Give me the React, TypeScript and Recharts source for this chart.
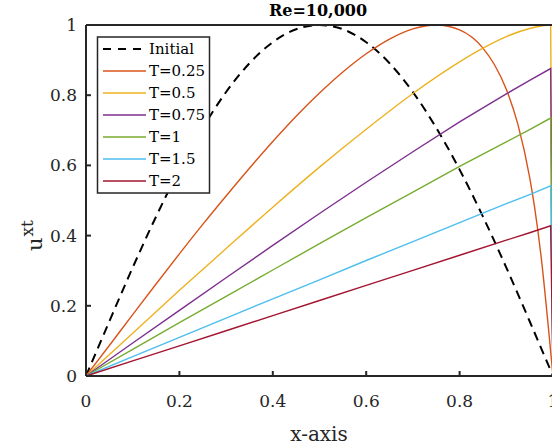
import { LineChart, Line, XAxis, YAxis } from "recharts";

const xTicks = [0, 0.2, 0.4, 0.6, 0.8, 1];
const yTicks = [0, 0.2, 0.4, 0.6, 0.8, 1];

// dashed initial profile
const xInitial = [0, 0.05, 0.1, 0.15, 0.2, 0.25, 0.3, 0.35, 0.4, 0.45, 0.5, 0.55, 0.6, 0.65, 0.7, 0.75, 0.8, 0.85, 0.9, 0.95, 1];
const uInitial = [0, 0.156, 0.309, 0.454, 0.588, 0.707, 0.809, 0.891, 0.951, 0.988, 1, 0.988, 0.951, 0.891, 0.809, 0.707, 0.588, 0.454, 0.309, 0.156, 0];

// T=0.25 bends over before x=1
const xEarly = [0, 0.05, 0.1, 0.15, 0.2, 0.25, 0.3, 0.35, 0.4, 0.45, 0.5, 0.55, 0.6, 0.65, 0.7, 0.75, 0.8, 0.85, 0.875, 0.9, 0.925, 0.95, 0.96, 0.975, 0.99, 1];
const uT025 = [0, 0.087, 0.175, 0.262, 0.348, 0.432, 0.513, 0.592, 0.668, 0.74, 0.806, 0.866, 0.918, 0.96, 0.989, 1, 0.986, 0.934, 0.886, 0.817, 0.716, 0.566, 0.486, 0.335, 0.14, 0];

// T=0.5 just reaches 1 at the wall
const xHalf = [0, 0.1, 0.2, 0.3, 0.4, 0.5, 0.6, 0.7, 0.8, 0.85, 0.9, 0.95, 0.975, 0.995, 1];
const uT05 = [0, 0.122, 0.244, 0.363, 0.481, 0.595, 0.703, 0.805, 0.895, 0.934, 0.967, 0.99, 0.997, 1, 0];

// later times: near-linear ramps, shock at the right wall
const xLate = [0, 0.1, 0.2, 0.3, 0.4, 0.5, 0.6, 0.7, 0.8, 0.9, 0.95, 0.995, 1];
const uT075 = [0, 0.094, 0.187, 0.28, 0.372, 0.463, 0.552, 0.639, 0.724, 0.804, 0.842, 0.876, 0];
const uT1 = [0, 0.076, 0.152, 0.227, 0.302, 0.377, 0.451, 0.524, 0.597, 0.667, 0.702, 0.735, 0];
const uT15 = [0, 0.055, 0.11, 0.165, 0.22, 0.274, 0.329, 0.383, 0.437, 0.491, 0.517, 0.542, 0];
const uT2 = [0, 0.043, 0.086, 0.129, 0.172, 0.215, 0.258, 0.301, 0.344, 0.387, 0.408, 0.428, 0];

const toPoints = (xs: number[], us: number[]) => xs.map((x, i) => ({ x, u: us[i] }));

const series = [
  { name: "T=0.25", color: "#D95319", xs: xEarly, us: uT025, curve: "monotone" },
  { name: "T=0.5", color: "#EDB120", xs: xHalf, us: uT05, curve: "monotone" },
  { name: "T=0.75", color: "#7E2F8E", xs: xLate, us: uT075, curve: "linear" },
  { name: "T=1", color: "#77AC30", xs: xLate, us: uT1, curve: "linear" },
  { name: "T=1.5", color: "#4DBEEE", xs: xLate, us: uT15, curve: "linear" },
  { name: "T=2", color: "#A2142F", xs: xLate, us: uT2, curve: "linear" },
];

const font = "DejaVu Serif";
const ink = "#262626";
const tickStyle = { fill: ink, fontSize: 17, fontFamily: font };

function Legend() {
  const top = 37;
  const rowH = 22;
  return (
    <g>
      <rect x={97.5} y={top} width={112} height={156} fill="#fff" stroke={ink} strokeWidth={1.5} />
      <line x1={103} x2={146} y1={top + 12} y2={top + 12} stroke="#000" strokeWidth={2} strokeDasharray="8 7" />
      <text x={149} y={top + 12} dy="0.35em" fontFamily={font} fontSize={15} fill="#000">Initial</text>
      {series.map((s, i) => {
        const y = top + 12 + (i + 1) * rowH;
        return (
          <g key={s.name}>
            <line x1={103} x2={146} y1={y} y2={y} stroke={s.color} strokeWidth={1.5} />
            <text x={149} y={y} dy="0.35em" fontFamily={font} fontSize={15} fill="#000">{s.name}</text>
          </g>
        );
      })}
    </g>
  );
}

export default function App() {
  return (
    <div style={{ position: "absolute", left: 0, top: 0, width: 552, height: 448, overflow: "hidden", background: "#fff" }}>
      <LineChart width={554} height={448} margin={{ top: 0, right: 0, bottom: 0, left: 0 }}>
        <XAxis
          xAxisId="b"
          type="number"
          dataKey="x"
          domain={[0, 1]}
          ticks={xTicks}
          interval={0}
          height={72}
          tick={tickStyle}
          tickSize={-5}
          tickMargin={24}
          stroke={ink}
          strokeWidth={2}
        />
        <XAxis
          xAxisId="t"
          orientation="top"
          type="number"
          domain={[0, 1]}
          ticks={xTicks}
          interval={0}
          height={25}
          tick={false}
          tickSize={-5}
          stroke={ink}
          strokeWidth={2}
        />
        <YAxis
          yAxisId="l"
          type="number"
          domain={[0, 1]}
          ticks={yTicks}
          interval={0}
          width={86}
          tick={tickStyle}
          tickSize={-5}
          tickMargin={14}
          stroke={ink}
          strokeWidth={2}
        />
        <YAxis
          yAxisId="r"
          orientation="right"
          type="number"
          domain={[0, 1]}
          ticks={yTicks}
          interval={0}
          width={1}
          tick={false}
          tickSize={-5}
          stroke={ink}
          strokeWidth={2}
        />
        <Line
          xAxisId="b"
          yAxisId="l"
          data={toPoints(xInitial, uInitial)}
          dataKey="u"
          type="monotone"
          stroke="#000"
          strokeWidth={2}
          strokeDasharray="9 6"
          dot={false}
          isAnimationActive={false}
        />
        {series.map((s) => (
          <Line
            key={s.name}
            xAxisId="b"
            yAxisId="l"
            data={toPoints(s.xs, s.us)}
            dataKey="u"
            type={s.curve as "monotone" | "linear"}
            stroke={s.color}
            strokeWidth={1.4}
            dot={false}
            isAnimationActive={false}
          />
        ))}
      </LineChart>
      <svg width={552} height={448} style={{ position: "absolute", left: 0, top: 0, pointerEvents: "none" }}>
        <text x={318} y={16} textAnchor="middle" fontFamily={font} fontWeight="bold" fontSize={16} fill="#000">
          Re=10,000
        </text>
        <text x={319} y={441} textAnchor="middle" fontFamily={font} fontSize={20} fill={ink}>
          x-axis
        </text>
        <text transform="translate(42,251) rotate(-90)" fontFamily={font} fontSize={21} fill={ink}>
          u<tspan dx={1} dy={-9} fontSize={17}>xt</tspan>
        </text>
        <Legend />
      </svg>
    </div>
  );
}
